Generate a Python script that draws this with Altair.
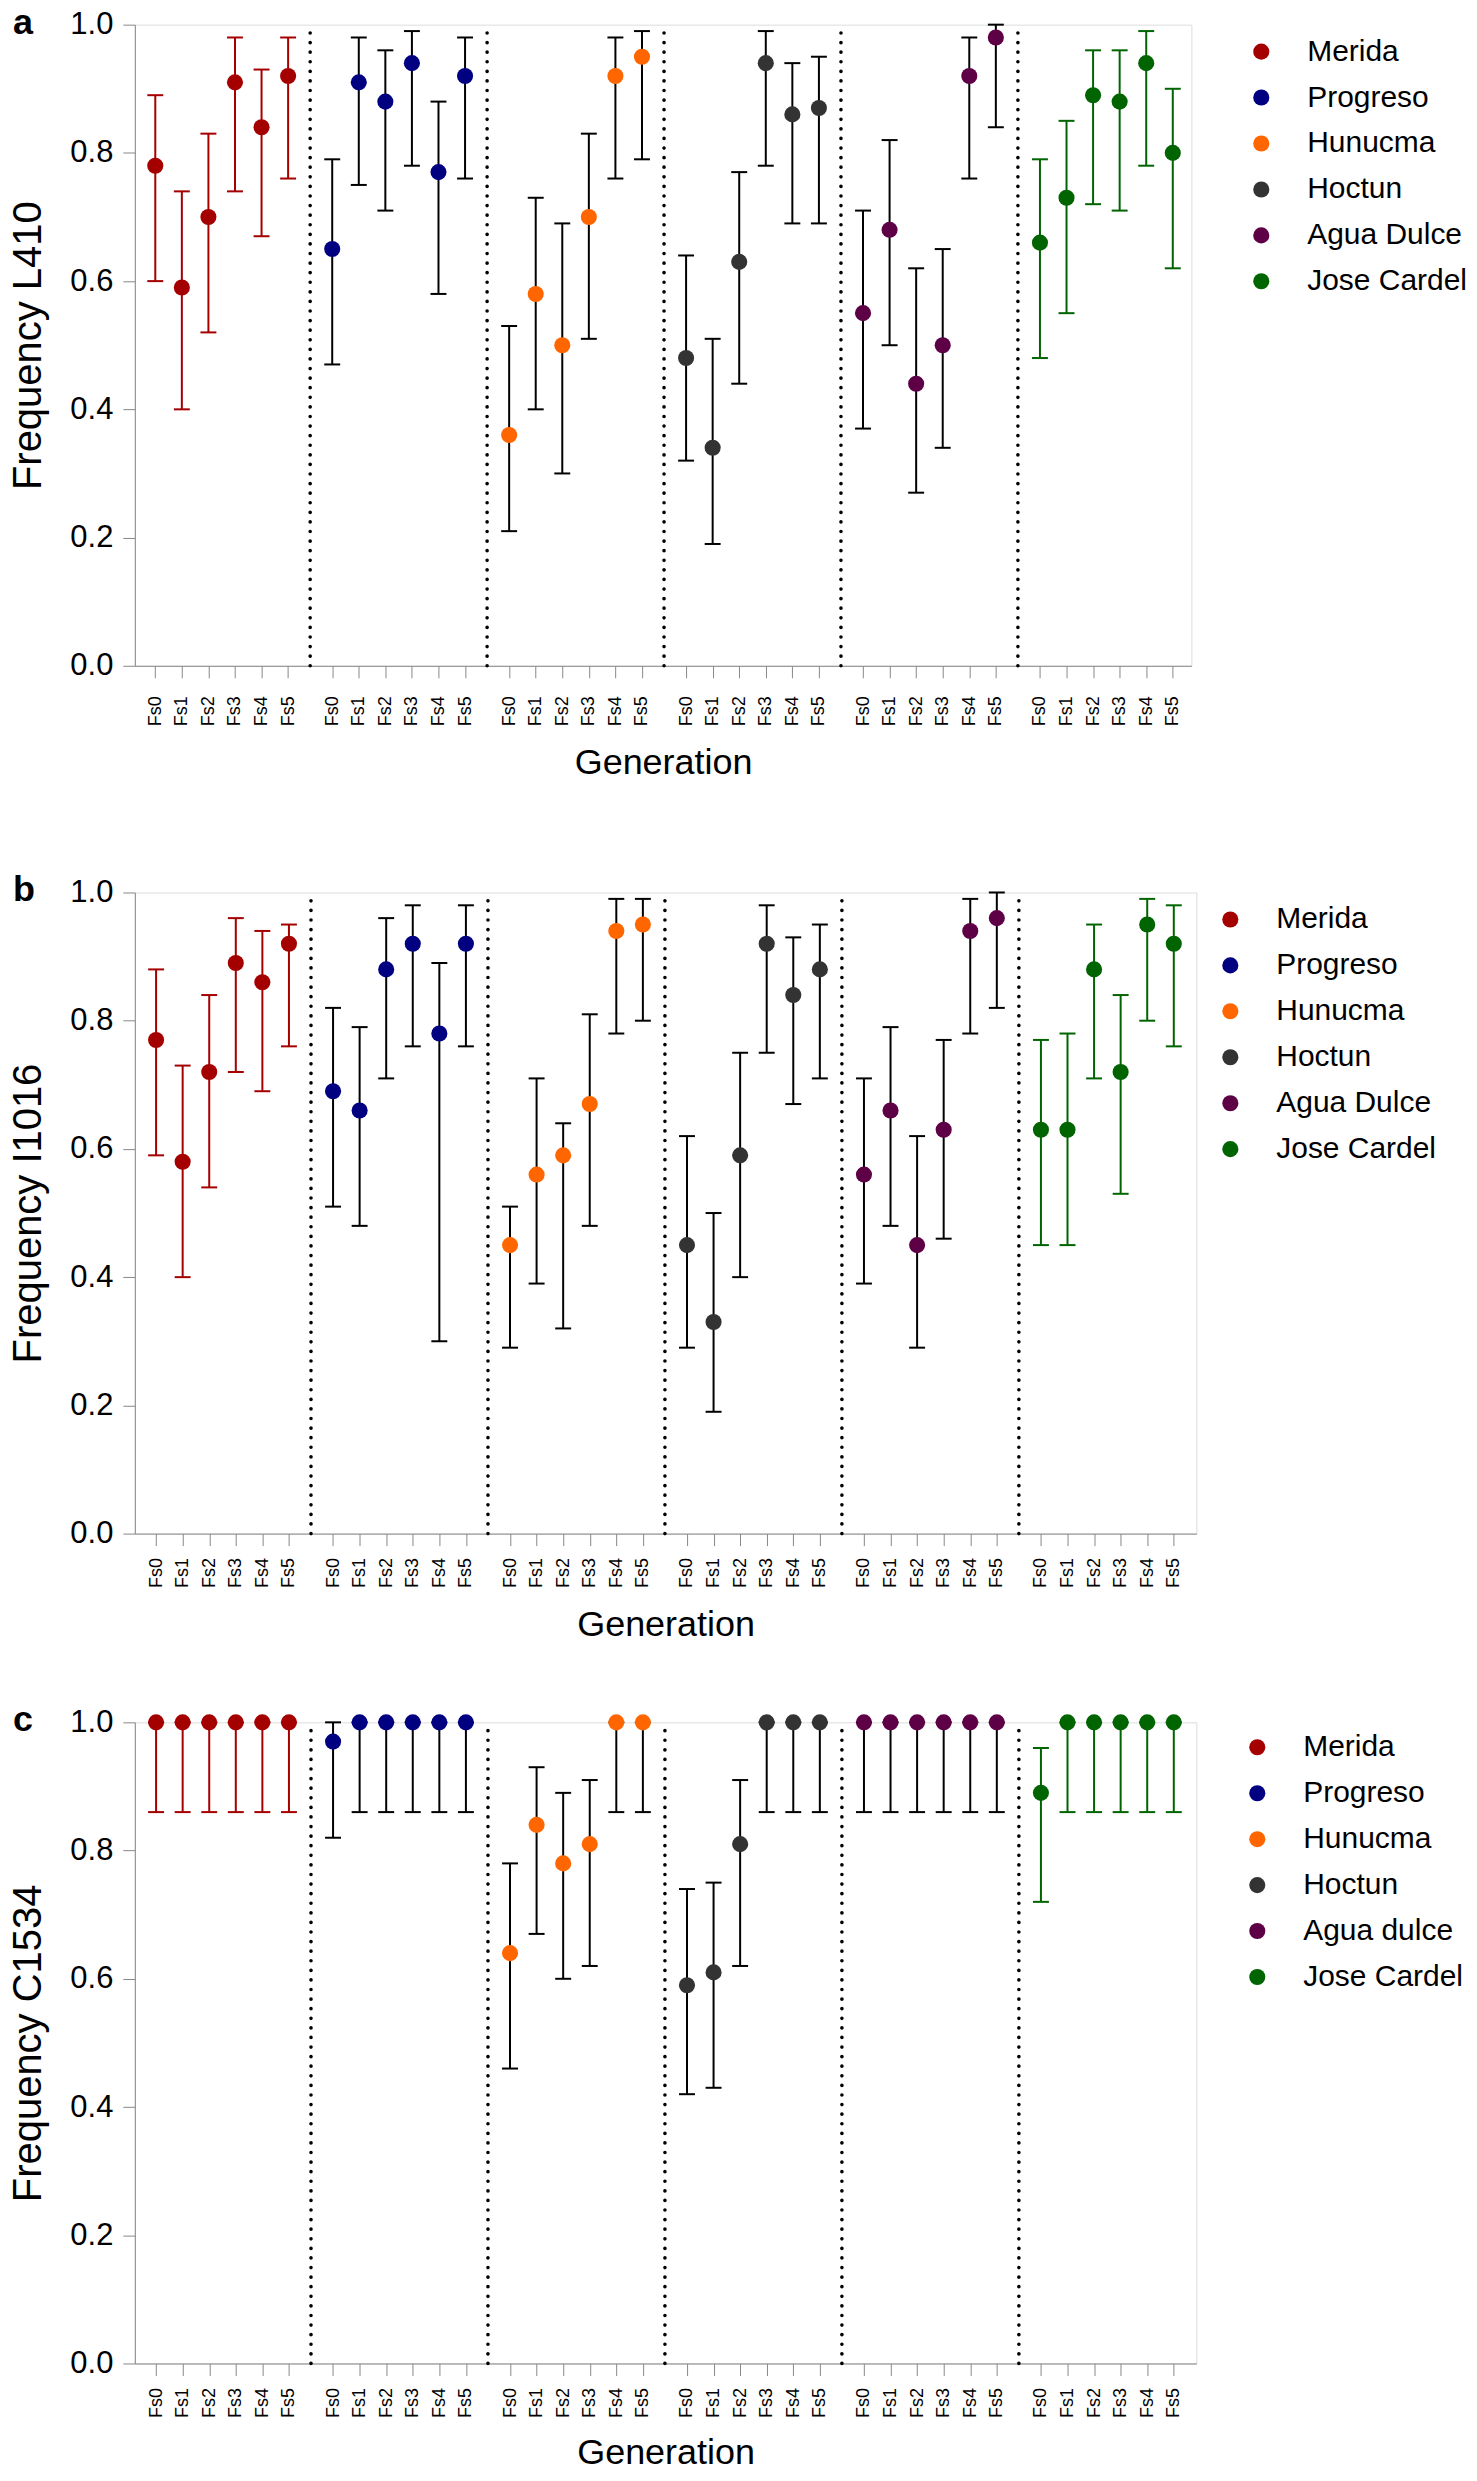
import altair as alt
import pandas as pd

FONT = "Liberation Sans"

POPS_AB = ["Merida", "Progreso", "Hunucma", "Hoctun", "Agua Dulce", "Jose Cardel"]
POPS_C = ["Merida", "Progreso", "Hunucma", "Hoctun", "Agua dulce", "Jose Cardel"]
GENS = ["Fs0", "Fs1", "Fs2", "Fs3", "Fs4", "Fs5"]
POINT_COLORS = ["#A50000", "#000080", "#FF6600", "#333333", "#5E0046", "#006400"]
BAR_COLORS = ["#A50000", "#000000", "#000000", "#000000", "#000000", "#006400"]

# ---- L410 ----
L410_FREQ = [
    [0.78, 0.59, 0.70, 0.91, 0.84, 0.92],
    [0.65, 0.91, 0.88, 0.94, 0.77, 0.92],
    [0.36, 0.58, 0.50, 0.70, 0.92, 0.95],
    [0.48, 0.34, 0.63, 0.94, 0.86, 0.87],
    [0.55, 0.68, 0.44, 0.50, 0.92, 0.98],
    [0.66, 0.73, 0.89, 0.88, 0.94, 0.80],
]
L410_LO = [
    [0.60, 0.40, 0.52, 0.74, 0.67, 0.76],
    [0.47, 0.75, 0.71, 0.78, 0.58, 0.76],
    [0.21, 0.40, 0.30, 0.51, 0.76, 0.79],
    [0.32, 0.19, 0.44, 0.78, 0.69, 0.69],
    [0.37, 0.50, 0.27, 0.34, 0.76, 0.84],
    [0.48, 0.55, 0.72, 0.71, 0.78, 0.62],
]
L410_HI = [
    [0.89, 0.74, 0.83, 0.98, 0.93, 0.98],
    [0.79, 0.98, 0.96, 0.99, 0.88, 0.98],
    [0.53, 0.73, 0.69, 0.83, 0.98, 0.99],
    [0.64, 0.51, 0.77, 0.99, 0.94, 0.95],
    [0.71, 0.82, 0.62, 0.65, 0.98, 1.00],
    [0.79, 0.85, 0.96, 0.96, 0.99, 0.90],
]

# ---- I1016 ----
I1016_FREQ = [
    [0.77, 0.58, 0.72, 0.89, 0.86, 0.92],
    [0.69, 0.66, 0.88, 0.92, 0.78, 0.92],
    [0.45, 0.56, 0.59, 0.67, 0.94, 0.95],
    [0.45, 0.33, 0.59, 0.92, 0.84, 0.88],
    [0.56, 0.66, 0.45, 0.63, 0.94, 0.96],
    [0.63, 0.63, 0.88, 0.72, 0.95, 0.92],
]
I1016_LO = [
    [0.59, 0.40, 0.54, 0.72, 0.69, 0.76],
    [0.51, 0.48, 0.71, 0.76, 0.30, 0.76],
    [0.29, 0.39, 0.32, 0.48, 0.78, 0.80],
    [0.29, 0.19, 0.40, 0.75, 0.67, 0.71],
    [0.39, 0.48, 0.29, 0.46, 0.78, 0.82],
    [0.45, 0.45, 0.71, 0.53, 0.80, 0.76],
]
I1016_HI = [
    [0.88, 0.73, 0.84, 0.96, 0.94, 0.95],
    [0.82, 0.79, 0.96, 0.98, 0.89, 0.98],
    [0.51, 0.71, 0.64, 0.81, 0.99, 0.99],
    [0.62, 0.50, 0.75, 0.98, 0.93, 0.95],
    [0.71, 0.79, 0.62, 0.77, 0.99, 1.00],
    [0.77, 0.78, 0.95, 0.84, 0.99, 0.98],
]

# ---- C1534 ----
C1534_FREQ = [
    [1.00, 1.00, 1.00, 1.00, 1.00, 1.00],
    [0.97, 1.00, 1.00, 1.00, 1.00, 1.00],
    [0.64, 0.84, 0.78, 0.81, 1.00, 1.00],
    [0.59, 0.61, 0.81, 1.00, 1.00, 1.00],
    [1.00, 1.00, 1.00, 1.00, 1.00, 1.00],
    [0.89, 1.00, 1.00, 1.00, 1.00, 1.00],
]
C1534_LO = [
    [0.86, 0.86, 0.86, 0.86, 0.86, 0.86],
    [0.82, 0.86, 0.86, 0.86, 0.86, 0.86],
    [0.46, 0.67, 0.60, 0.62, 0.86, 0.86],
    [0.42, 0.43, 0.62, 0.86, 0.86, 0.86],
    [0.86, 0.86, 0.86, 0.86, 0.86, 0.86],
    [0.72, 0.86, 0.86, 0.86, 0.86, 0.86],
]
C1534_HI = [
    [1.00, 1.00, 1.00, 1.00, 1.00, 1.00],
    [1.00, 1.00, 1.00, 1.00, 1.00, 1.00],
    [0.78, 0.93, 0.89, 0.91, 1.00, 1.00],
    [0.74, 0.75, 0.91, 1.00, 1.00, 1.00],
    [1.00, 1.00, 1.00, 1.00, 1.00, 1.00],
    [0.96, 1.00, 1.00, 1.00, 1.00, 1.00],
]

Y_TICKS = [0.0, 0.2, 0.4, 0.6, 0.8, 1.0]

GROUP_PITCH = 6.66   # spacing between first generations of adjacent populations
CAP_HALF = 0.3       # half width of error bar caps, in x units


def build(freq, lo, hi, pops):
    rows = []
    for g, pop in enumerate(pops):
        for i, gen in enumerate(GENS):
            rows.append({
                "pop": pop, "gen": gen, "pos": g * GROUP_PITCH + i,
                "freq": freq[g][i], "lo": lo[g][i], "hi": hi[g][i],
                "barcolor": BAR_COLORS[g],
            })
    return pd.DataFrame(rows)


def dividers(pops):
    rows = []
    for g in range(len(pops) - 1):
        rows.append({"pos": (g * GROUP_PITCH + 5 + (g + 1) * GROUP_PITCH) / 2,
                     "y0": 0.0, "y1": 1.0})
    return pd.DataFrame(rows)


def panel(freq, lo, hi, pops, ytitle, letter, width, height, xdom,
          legend_x, legend_y, label_pad, gen_pad):
    df = build(freq, lo, hi, pops)
    dv = dividers(pops)
    xscale = alt.Scale(domain=xdom, nice=False, zero=False)
    yscale = alt.Scale(domain=[0, 1], nice=False)

    xaxis = alt.Axis(
        values=df["pos"].tolist(),
        labelExpr=f"'Fs' + round(datum.value - {GROUP_PITCH}*floor((datum.value + 0.5)/{GROUP_PITCH}))",
        labelAngle=270, labelFontSize=18, labelPadding=label_pad,
        tickSize=12, grid=False, title="Generation", titleFontSize=36,
        titlePadding=gen_pad, titleFontWeight="normal",
    )
    yaxis = alt.Axis(
        values=Y_TICKS, format=".1f", labelFontSize=31, labelPadding=10,
        tickSize=12, grid=False, title=ytitle, titleFontSize=40,
        titlePadding=21, titleFontWeight="normal",
    )

    def X(field):
        return alt.X(field, scale=xscale, axis=xaxis, title="Generation")

    def Y(field):
        return alt.Y(field, scale=yscale, axis=yaxis, title=ytitle)

    div = alt.Chart(dv).mark_rule(
        color="black", strokeWidth=3.6, strokeDash=[0.1, 9.5], strokeCap="round"
    ).encode(x=X("pos:Q"), y=Y("y0:Q"), y2="y1:Q")

    base = alt.Chart(df)
    bars = base.mark_rule(strokeWidth=2).encode(
        x=X("pos:Q"), y=Y("lo:Q"), y2="hi:Q",
        stroke=alt.Stroke("barcolor:N", scale=None, legend=None),
    )
    caps_lo = base.transform_calculate(
        xa=f"datum.pos - {CAP_HALF}", xb=f"datum.pos + {CAP_HALF}"
    ).mark_rule(strokeWidth=2).encode(
        x=X("xa:Q"), x2="xb:Q", y=Y("lo:Q"),
        stroke=alt.Stroke("barcolor:N", scale=None, legend=None),
    )
    caps_hi = base.transform_calculate(
        xa=f"datum.pos - {CAP_HALF}", xb=f"datum.pos + {CAP_HALF}"
    ).mark_rule(strokeWidth=2).encode(
        x=X("xa:Q"), x2="xb:Q", y=Y("hi:Q"),
        stroke=alt.Stroke("barcolor:N", scale=None, legend=None),
    )
    pts = base.mark_point(filled=True, shape="circle", size=260, opacity=1).encode(
        x=X("pos:Q"), y=Y("freq:Q"),
        color=alt.Color(
            "pop:N",
            scale=alt.Scale(domain=pops, range=POINT_COLORS),
            legend=alt.Legend(
                title=None, orient="none", legendX=legend_x, legendY=legend_y,
                padding=0, labelFontSize=30, labelFont=FONT,
                symbolType="circle", symbolSize=260, symbolStrokeWidth=0,
                rowPadding=16, labelOffset=31, labelColor="black",
                labelLimit=400,
            ),
        ),
    )
    lab = alt.Chart(alt.Data(values=[{}])).mark_text(
        text=letter, fontSize=36, fontWeight="bold", font=FONT,
        align="left", baseline="alphabetic", color="black",
    ).encode(x=alt.value(-122), y=alt.value(9))

    return alt.layer(div, bars, caps_lo, caps_hi, pts, lab).properties(
        width=width, height=height
    )


pa = panel(L410_FREQ, L410_LO, L410_HI, POPS_AB, "Frequency L410", "a",
           1058, 642, [-0.77, 39.0], 1113, 12, 18, 20)
pb = panel(I1016_FREQ, I1016_LO, I1016_HI, POPS_AB, "Frequency I1016", "b",
           1063, 642, [-0.8, 39.15], 1082, 12, 12, 20)
pc = panel(C1534_FREQ, C1534_LO, C1534_HI, POPS_C, "Frequency C1534", "c",
           1063, 642, [-0.8, 39.15], 1109, 10, 12, 18)

inner = alt.vconcat(pb, pc, spacing=58).resolve_scale(color="independent")
chart = alt.vconcat(pa, inner, spacing=90).resolve_scale(
    color="independent"
).properties(
    padding={"left": 0, "top": -6, "right": 0, "bottom": 0}
).configure_view(strokeOpacity=0, strokeWidth=0).configure_axis(
    domainColor="black", tickColor="black", labelColor="black",
    titleColor="black", domainWidth=2, tickWidth=2,
    labelFont=FONT, titleFont=FONT,
).configure(background="white")

chart.save("out.html", embed_options={"renderer": "svg", "actions": False})
